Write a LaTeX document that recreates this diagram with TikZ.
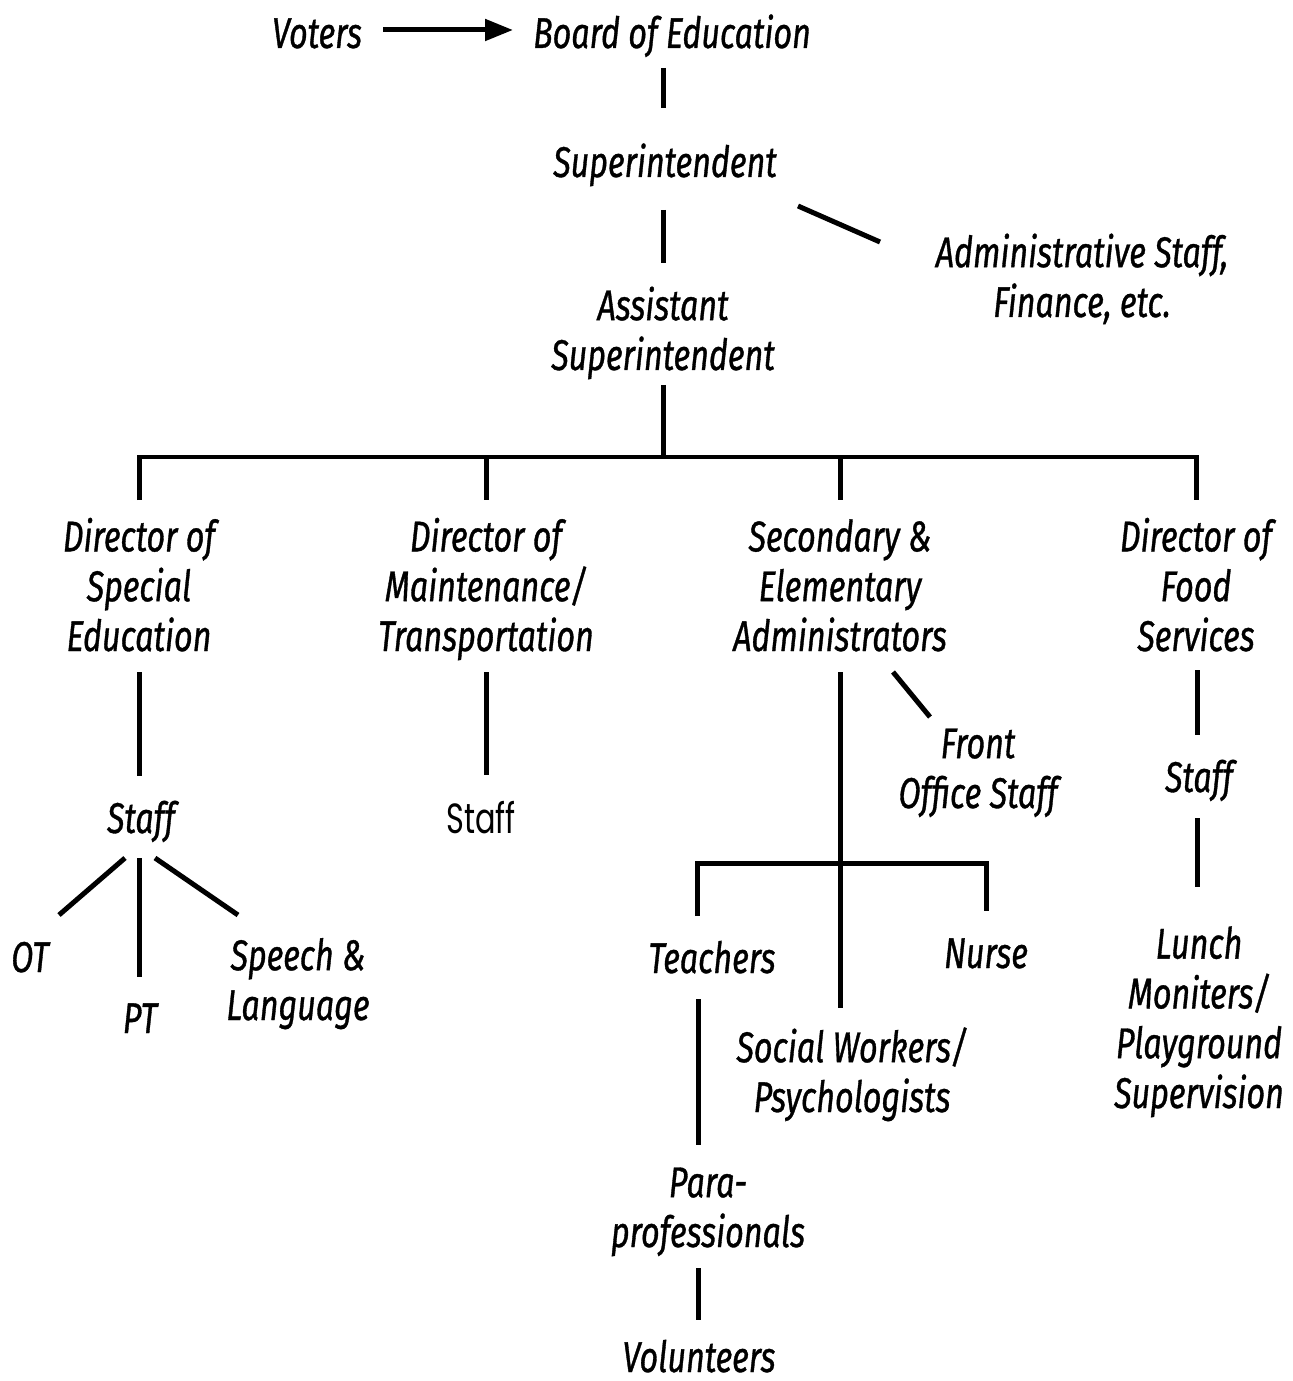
\documentclass[tikz,border=0pt]{standalone}
\usepackage{fontspec}
\setmainfont{Fira Sans}[FakeStretch=0.75, FakeBold=0.8]
\newfontfamily\roundfont{Poppins}[FakeStretch=0.72]
\usepackage{tikz}
\usetikzlibrary{arrows.meta}
\tikzset{
    lbl/.style={font=\itshape\fontsize{24.5}{28.35}\selectfont, align=center, inner sep=0pt, anchor=base},
    plainlbl/.style={lbl, font=\roundfont\fontsize{24}{28.35}\selectfont},
    link/.style={line width=1mm},
    arrow/.style={link, -{Triangle[length=5.6mm, width=4.2mm]}}
}

\begin{document}
\begin{tikzpicture}[x=0.02cm, y=-0.02cm]
            \useasboundingbox (0,0) rectangle (1292,1381);

            % top of the chart (base = last line)
            \node[lbl] (voters) at (317,48) {Voters};
            \node[lbl] (board) at (672,48) {Board of Education};
            \node[lbl] (super) at (665,177) {Superintendent};
            \node[lbl] (admin) at (1082,317) {Administrative Staff,\\Finance, etc.};
            \node[lbl] (asst) at (663,370) {Assistant\\Superintendent};
            \coordinate (bus) at (663,457);

            % directors
            \node[lbl] (dse) at (139,651) {Director of\\Special\\Education};
            \node[lbl] (dmt) at (486,651) {Director of\\Maintenance/\\Transportation};
            \node[lbl] (sea) at (840,651) {Secondary \&\\Elementary\\Administrators};
            \node[lbl] (dfs) at (1196,651) {Director of\\Food\\Services};

            % staff level
            \node[lbl] (staffse) at (141,833) {Staff};
            \node[plainlbl] (staffmt) at (481,833) {Staff};
            \node[lbl] (front) at (978,808) {Front\\Office Staff};
            \node[lbl] (stafffs) at (1199,792) {Staff};
            \node[lbl] (ot) at (30,972) {OT};
            \node[lbl] (pt) at (140,1033) {PT};
            \node[lbl] (speech) at (298,1020) {Speech \&\\Language};
            \node[lbl] (teachers) at (712,973) {Teachers};
            \node[lbl] (nurse) at (986,968) {Nurse};
            \node[lbl] (social) at (852,1112) {Social Workers/\\Psychologists};
            \node[lbl] (lunch) at (1199,1108) {Lunch\\Moniters/\\Playground\\Supervision};
            \node[lbl] (para) at (708,1247) {Para-\\professionals};
            \node[lbl] (volunteers) at (699,1372) {Volunteers};
            \coordinate (tbus) at (840,863);

            % connectors
            \draw[arrow] ([shift={(66,-18)}]voters.base) -- ([shift={(-159,-18)}]board.base);
            \draw[link] ([shift={(-9,20)}]board.base) -- ([shift={(-2,-69)}]super.base);
            \draw[link] ([shift={(-2,33)}]super.base) -- ([shift={(0,-107)}]asst.base);
            \draw[link] ([shift={(133,29)}]super.base) -- ([shift={(-202,-75)}]admin.base);
            \draw[link] ([shift={(0,15)}]asst.base) -- (bus);
            \draw[link] ([shift={(0,-151)}]dse.base) -- (bus -| dse) -- (bus -| dfs) -- ([shift={(0,-151)}]dfs.base);
            \draw[link] (bus -| dmt) -- ([shift={(0,-151)}]dmt.base);
            \draw[link] (bus -| sea) -- ([shift={(0,-151)}]sea.base);

            \draw[link] ([shift={(0,21)}]dse.base) -- ([shift={(-2,-57)}]staffse.base);
            \draw[link] ([shift={(0,21)}]dmt.base) -- ([shift={(5,-58)}]staffmt.base);
            \draw[link] ([shift={(0,21)}]sea.base) -- ([shift={(-12,-104)}]social.base);
            \draw[link] ([shift={(53,21)}]sea.base) -- ([shift={(-48,-91)}]front.base);
            \draw[link] ([shift={(1,19)}]dfs.base) -- ([shift={(-2,-57)}]stafffs.base);
            \draw[link] ([shift={(-2,26)}]stafffs.base) -- ([shift={(-2,-221)}]lunch.base);

            \draw[link] ([shift={(-16,25)}]staffse.base) -- ([shift={(29,-57)}]ot.base);
            \draw[link] ([shift={(-2,25)}]staffse.base) -- ([shift={(-1,-56)}]pt.base);
            \draw[link] ([shift={(14,25)}]staffse.base) -- ([shift={(-60,-105)}]speech.base);

            \draw[link] ([shift={(-15,-57)}]teachers.base) |- (tbus) -| ([shift={(0,-57)}]nurse.base);
            \draw[link] ([shift={(-14,26)}]teachers.base) -- ([shift={(-10,-102)}]para.base);
            \draw[link] ([shift={(-10,21)}]para.base) -- ([shift={(-1,-52)}]volunteers.base);
\end{tikzpicture}
\end{document}
